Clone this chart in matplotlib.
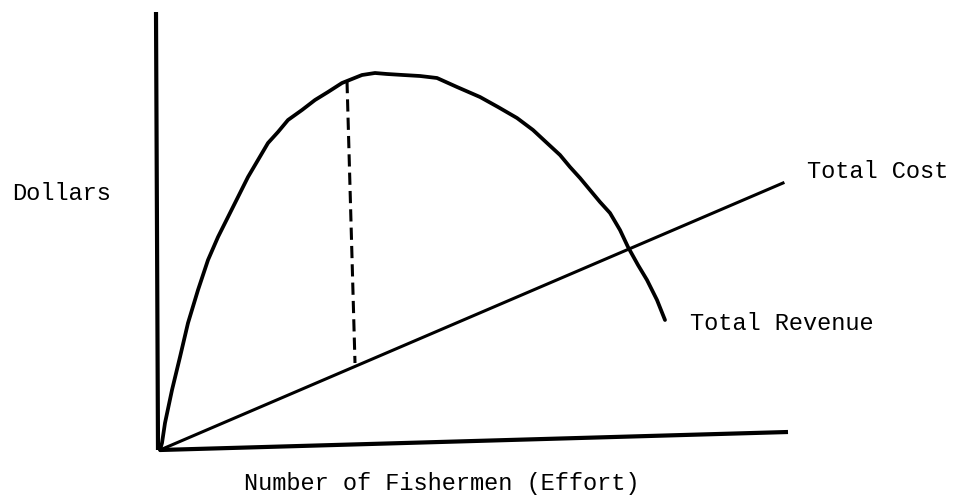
import matplotlib
matplotlib.use("Agg")
import matplotlib.pyplot as plt

# effort (x) and dollars (y)
effort_axis = [0, 628]
effort_axis_y = [0, 18]
dollar_axis_x = [-2, -4]
dollar_axis = [0, 438]

cost_effort = [0, 623]
total_cost = [0, 267]

rev_effort = [0, 2, 5, 12, 20, 28, 38, 48, 58, 68, 78, 88, 98, 108, 118, 128, 142, 155,
              168, 182, 192, 202, 215, 227, 243, 260, 277, 297, 320, 338, 357, 373, 387,
              400, 410, 420, 430, 440, 450, 460, 468, 478, 487, 497, 505]
total_revenue = [0, 7, 27, 60, 93, 127, 160, 190, 213, 233, 253, 273, 290, 307, 318, 330, 340, 350,
                 358, 367, 371, 375, 377, 376, 375, 374, 372, 363, 353, 343, 332, 320, 307,
                 295, 283, 272, 260, 248, 237, 220, 203, 185, 170, 150, 130]

msy_effort = [187, 195]
msy_dollars = [369, 87]

font = ["Liberation Mono", "DejaVu Sans Mono"]

fig = plt.figure(figsize=(9.58, 4.95), dpi=100)
ax = fig.add_axes([0, 0, 1, 1])
ax.set_xlim(-160, 798)
ax.set_ylim(-45, 450)
ax.axis("off")

ax.plot(dollar_axis_x, dollar_axis, color="black", lw=3.0, solid_capstyle="butt")
ax.plot(effort_axis, effort_axis_y, color="black", lw=3.0, solid_capstyle="butt")
ax.plot(cost_effort, total_cost, color="black", lw=2.2)
ax.plot(rev_effort, total_revenue, color="black", lw=2.7,
        solid_capstyle="round", solid_joinstyle="round")
ax.plot(msy_effort, msy_dollars, color="black", lw=2.2, dashes=(4, 2))

ax.text(-148, 257, "Dollars", family=font, fontsize=17, ha="left", va="center")
ax.text(647, 278, "Total Cost", family=font, fontsize=17, ha="left", va="center")
ax.text(530, 127, "Total Revenue", family=font, fontsize=17, ha="left", va="center")
ax.text(282, -40, "Number of Fishermen (Effort)", family=font, fontsize=17,
        ha="center", va="baseline")

fig.savefig("out.png", dpi=100, facecolor="white")
